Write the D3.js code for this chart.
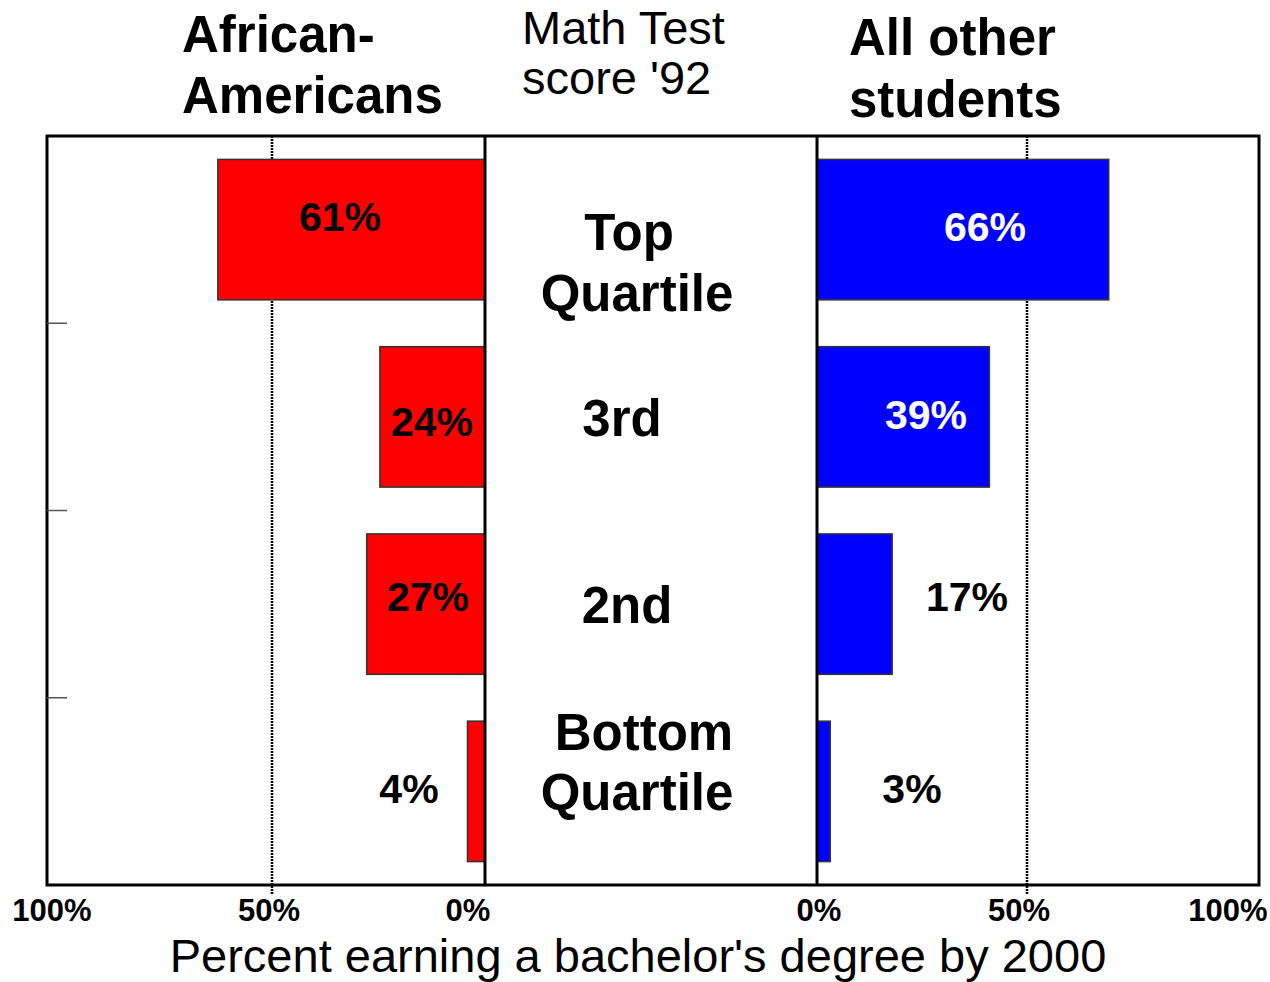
<!DOCTYPE html>
<html>
<head>
<meta charset="utf-8">
<script src="https://cdn.jsdelivr.net/npm/d3@7"></script>
<style>
  body { margin: 0; background: #fff; }
  svg { display: block; font-family: "Liberation Sans", Arial, sans-serif; }
</style>
</head>
<body>
<svg id="chart" width="1270" height="982"></svg>
<script>
// data
const quartiles = ['Top Quartile', '3rd', '2nd', 'Bottom Quartile'];
const africanAmericans = [61, 24, 27, 4];
const allOthers = [66, 39, 17, 3];
const tickValues = [0, 50, 100];
const gridValues = [50];

// layout
const frame = { left: 47, right: 1259, top: 136, bottom: 885 };
const midLeft = 485, midRight = 817;
const svg = d3.select('#chart');

const xLeft = d3.scaleLinear().domain([0, 100]).range([midLeft, frame.left]);
const xRight = d3.scaleLinear().domain([0, 100]).range([midRight, frame.right]);

const y = d3.scaleBand()
    .domain(quartiles)
    .range([frame.top, frame.bottom])
    .paddingInner(0.25)
    .paddingOuter(0.125);

// label tweaks, as in the original slide
const leftTickShift = [-17, 3, 5];
const rightTickShift = [2, -19, -31];
const leftGridShift = 6, rightGridShift = -11;
const leftLabelX = [340, 432, 428, 409];
const leftLabelY = [231, 436, 611, 803];
const rightLabelX = [985, 926, 967, 912];
const rightLabelY = [241, 429, 611, 803];
const rightLabelWhite = [true, true, false, false];
const catLines = [['Top', 'Quartile'], ['3rd'], ['2nd'], ['Bottom', 'Quartile']];
const catX = [[629, 637], [622], [627], [644, 637]];
const catY = [[250, 311], [436], [623], [750, 810]];

// gridlines (dotted)
[xLeft(gridValues[0]) + leftGridShift, xRight(gridValues[0]) + rightGridShift].forEach(gx => {
    svg.append('line')
        .attr('x1', gx).attr('x2', gx)
        .attr('y1', frame.top).attr('y2', frame.bottom + 10)
        .attr('stroke', '#000').attr('stroke-width', 2.5).attr('stroke-dasharray', '2,1');
});

// bars
svg.selectAll('.barL')
    .data(africanAmericans)
    .enter()
    .append('rect')
    .attr('class', 'barL')
    .attr('x', d => xLeft(d))
    .attr('y', (d, i) => y(quartiles[i]))
    .attr('width', d => xLeft(0) - xLeft(d))
    .attr('height', y.bandwidth())
    .attr('fill', '#ff0000')
    .attr('stroke', '#333')
    .attr('stroke-width', 1.5);

svg.selectAll('.barR')
    .data(allOthers)
    .enter()
    .append('rect')
    .attr('class', 'barR')
    .attr('x', xRight(0))
    .attr('y', (d, i) => y(quartiles[i]))
    .attr('width', d => xRight(d) - xRight(0))
    .attr('height', y.bandwidth())
    .attr('fill', '#0000ff')
    .attr('stroke', '#333')
    .attr('stroke-width', 1.5);

// white middle column
svg.append('rect')
    .attr('x', midLeft).attr('y', frame.top)
    .attr('width', midRight - midLeft).attr('height', frame.bottom - frame.top)
    .attr('fill', '#fff');

// frame and dividers
svg.append('rect')
    .attr('x', frame.left).attr('y', frame.top)
    .attr('width', frame.right - frame.left).attr('height', frame.bottom - frame.top)
    .attr('fill', 'none').attr('stroke', '#000').attr('stroke-width', 3);
[midLeft, midRight].forEach(x => {
    svg.append('line')
        .attr('x1', x).attr('x2', x)
        .attr('y1', frame.top).attr('y2', frame.bottom)
        .attr('stroke', '#000').attr('stroke-width', 3);
});

// category separators on the left edge
svg.selectAll('.ytick')
    .data(quartiles.slice(1))
    .enter()
    .append('line')
    .attr('class', 'ytick')
    .attr('x1', frame.left).attr('x2', frame.left + 20)
    .attr('y1', d => y(d) - y.step() * y.paddingInner() / 2)
    .attr('y2', d => y(d) - y.step() * y.paddingInner() / 2)
    .attr('stroke', '#555').attr('stroke-width', 1.5);

// value labels
svg.selectAll('.valL')
    .data(africanAmericans)
    .enter()
    .append('text')
    .attr('class', 'valL')
    .attr('x', (d, i) => leftLabelX[i])
    .attr('y', (d, i) => leftLabelY[i])
    .attr('text-anchor', 'middle')
    .attr('font-weight', 'bold')
    .attr('font-size', 41)
    .attr('fill', '#000')
    .text(d => d + '%');

svg.selectAll('.valR')
    .data(allOthers)
    .enter()
    .append('text')
    .attr('class', 'valR')
    .attr('x', (d, i) => rightLabelX[i])
    .attr('y', (d, i) => rightLabelY[i])
    .attr('text-anchor', 'middle')
    .attr('font-weight', 'bold')
    .attr('font-size', 41)
    .attr('fill', (d, i) => rightLabelWhite[i] ? '#fff' : '#000')
    .text(d => d + '%');

// category labels in the middle column
catLines.forEach((lines, i) => {
    lines.forEach((line, j) => {
        svg.append('text')
            .attr('x', catX[i][j])
            .attr('y', catY[i][j])
            .attr('text-anchor', 'middle')
            .attr('font-weight', 'bold')
            .attr('font-size', 51)
            .text(line);
    });
});

// x tick labels
tickValues.forEach((v, i) => {
    svg.append('text')
        .attr('x', xLeft(v) + leftTickShift[i])
        .attr('y', 921)
        .attr('text-anchor', 'middle')
        .attr('font-weight', 'bold')
        .attr('font-size', 31)
        .text(v + '%');
    svg.append('text')
        .attr('x', xRight(v) + rightTickShift[i])
        .attr('y', 921)
        .attr('text-anchor', 'middle')
        .attr('font-weight', 'bold')
        .attr('font-size', 31)
        .text(v + '%');
});

// x axis title
svg.append('text')
    .attr('x', 638)
    .attr('y', 972)
    .attr('text-anchor', 'middle')
    .attr('font-size', 47)
    .text("Percent earning a bachelor's degree by 2000");

// headings
const headings = [
    { lines: ['African-', 'Americans'], x: 182, y: [52, 113], bold: true, size: 51 },
    { lines: ['Math Test', "score '92"], x: 522, y: [44, 94], bold: false, size: 47 },
    { lines: ['All other', 'students'], x: 849, y: [55, 117], bold: true, size: 51 }
];
headings.forEach(h => {
    h.lines.forEach((line, j) => {
        svg.append('text')
            .attr('x', h.x)
            .attr('y', h.y[j])
            .attr('font-weight', h.bold ? 'bold' : 'normal')
            .attr('font-size', h.size)
            .text(line);
    });
});
</script>
</body>
</html>
